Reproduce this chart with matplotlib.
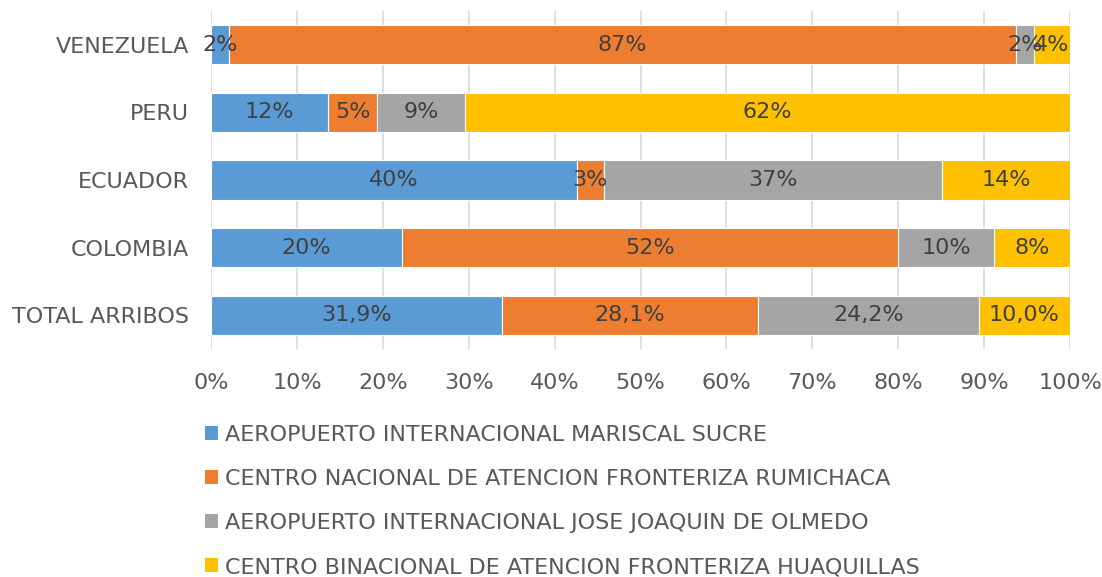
import numpy as np
import matplotlib.pyplot as plt
from matplotlib.patches import Patch

# datos (porcentajes tal como aparecen en las etiquetas)
paises = ['TOTAL ARRIBOS', 'COLOMBIA', 'ECUADOR', 'PERU', 'VENEZUELA']
series = [
    'AEROPUERTO INTERNACIONAL MARISCAL SUCRE',
    'CENTRO NACIONAL DE ATENCION FRONTERIZA RUMICHACA',
    'AEROPUERTO INTERNACIONAL JOSE JOAQUIN DE OLMEDO',
    'CENTRO BINACIONAL DE ATENCION FRONTERIZA HUAQUILLAS',
]
mariscal_sucre = [31.9, 20, 40, 12, 2]
rumichaca      = [28.1, 52, 3, 5, 87]
olmedo         = [24.2, 10, 37, 9, 2]
huaquillas     = [10.0, 8, 14, 62, 4]
etiquetas = [
    ['31,9%', '20%', '40%', '12%', '2%'],
    ['28,1%', '52%', '3%', '5%', '87%'],
    ['24,2%', '10%', '37%', '9%', '2%'],
    ['10,0%', '8%', '14%', '62%', '4%'],
]

colores = ['#5B9BD5', '#ED7D31', '#A5A5A5', '#FFC000']
TXT = '#595959'
FS = 16
plt.rcParams['font.family'] = ['DejaVu Sans']

valores = np.array([mariscal_sucre, rumichaca, olmedo, huaquillas], dtype=float)
totales = valores.sum(axis=0)
partes = valores / totales * 100   # barras apiladas al 100%

fig = plt.figure(figsize=(11.02, 5.77), dpi=100)
ax = fig.add_axes([0.1915, 0.395, 0.7795, 0.586])

y = np.arange(len(paises))
izq = np.zeros(len(paises))
for i in range(4):
    ax.barh(y, partes[i], left=izq, height=0.58, color=colores[i],
            edgecolor='white', linewidth=0.8, zorder=3)
    for j in range(len(paises)):
        ax.text(izq[j] + partes[i][j] / 2, y[j], etiquetas[i][j],
                ha='center', va='center', fontsize=FS, color='#404040', zorder=4)
    izq += partes[i]

ax.set_xlim(0, 100)
ax.set_ylim(-0.5, len(paises) - 0.5)
ax.set_xticks(np.arange(0, 101, 10))
ax.set_xticklabels([f'{v}%' for v in range(0, 101, 10)])
ax.set_yticks(y)
ax.set_yticklabels(paises)
ax.tick_params(axis='both', length=0, labelsize=FS, labelcolor=TXT)
ax.tick_params(axis='x', pad=17)
ax.tick_params(axis='y', pad=16)
ax.grid(axis='x', color='#D9D9D9', linewidth=1.2, zorder=0)
for s in ax.spines.values():
    s.set_visible(False)

handles = [Patch(facecolor=c) for c in colores]
leg = fig.legend(handles, series, loc='upper left', bbox_to_anchor=(0.186, 0.263),
                 frameon=False, fontsize=FS, labelcolor=TXT,
                 handlelength=0.6, handleheight=0.6, handletextpad=0.3,
                 labelspacing=1.08, borderaxespad=0, borderpad=0)

fig.savefig('out.png', dpi=100)
